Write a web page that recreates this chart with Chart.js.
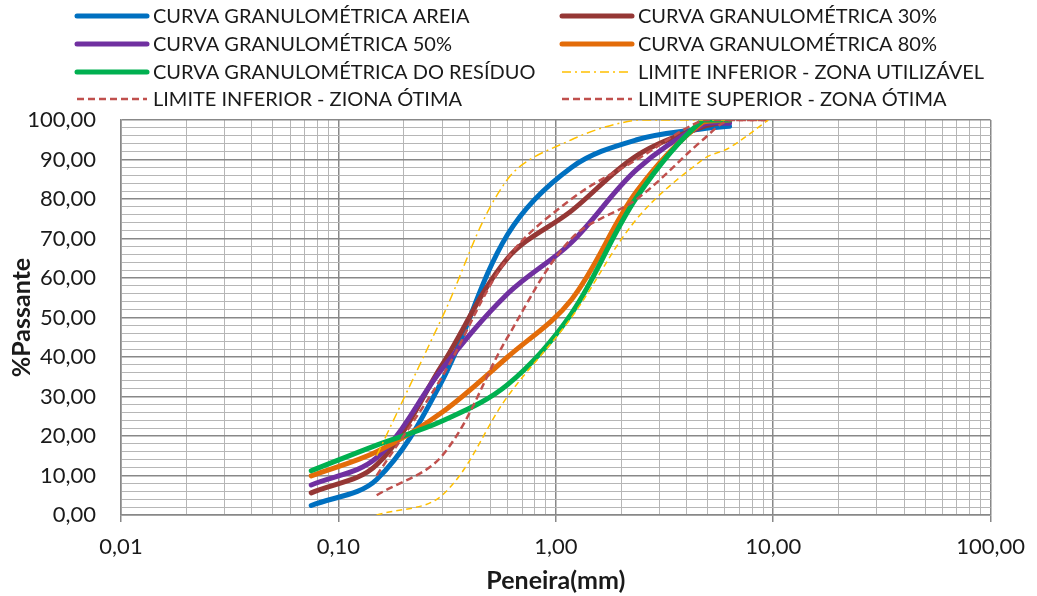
<!DOCTYPE html>
<html>
<head>
<meta charset="utf-8">
<script src="https://cdn.jsdelivr.net/npm/chart.js@4.4.1/dist/chart.umd.min.js"></script>
<style>
  html, body { margin: 0; padding: 0; background: #fff; }
  #wrap { width: 1037px; height: 596px; }
</style>
</head>
<body>
<div id="wrap"><canvas id="granChart" width="1037" height="596"></canvas></div>
<script>
// ── Data ──────────────────────────────────────────────────────────────────

const sieveCurve = [0.075, 0.15, 0.3, 0.6, 1.18, 2.36, 4.75, 6.3];
const sieveLimit = [0.15, 0.3, 0.6, 1.18, 2.36, 4.75, 6.3, 9.5];

const areia      = [2.4, 9.0, 34, 71, 88, 95, 97.8, 98.4];
const mix30      = [5.6, 12.7, 38, 65, 77, 91, 98.3, 99.6];
const mix50      = [7.6, 14.5, 37, 56, 69, 87.5, 98.8, 99.2];
const mix80      = [9.9, 16, 26, 40, 54.5, 82, 99.5, 100];
const residuo    = [11.2, 17.7, 23.8, 33, 51, 80.5, 100, 100];

const limInfUtil  = [15, 50, 85, 95, 100, 100, 100, 100];
const limInfOtima = [10, 35, 65, 80, 90, 100, 100, 100];
const limSupOtima = [5, 15, 45, 70, 80, 95, 100, 100];
const limSupUtil  = [0, 5, 30, 50, 75, 90, 93, 100];

const FONT = 'Lato';
const TXT  = '#1a1a1a';
const GRID_MAJOR = '#888888';
const GRID_MINOR = '#b6b6b6';

const pts = (xs, ys) => xs.map((x, i) => ({ x, y: ys[i] }));
const comma = v => v.toFixed(2).replace('.', ',');

function curve(label, xs, ys, color) {
  return { label, data: pts(xs, ys), borderColor: color, backgroundColor: color,
           borderWidth: 5, borderCapStyle: 'round', borderJoinStyle: 'round',
           tension: 0.35, pointRadius: 0, fill: false };
}
function limit(label, ys, color, dash, width) {
  return { label, data: pts(sieveLimit, ys), borderColor: color, backgroundColor: color,
           borderWidth: width, borderDash: dash,
           tension: 0.35, pointRadius: 0, fill: false };
}

const datasets = [
  curve('CURVA GRANULOMÉTRICA AREIA',   sieveCurve, areia,   '#0070c0'),
  curve('CURVA GRANULOMÉTRICA 30%',     sieveCurve, mix30,   '#953735'),
  curve('CURVA GRANULOMÉTRICA 50%',     sieveCurve, mix50,   '#7030a0'),
  curve('CURVA GRANULOMÉTRICA 80%',     sieveCurve, mix80,   '#e36c09'),
  curve('CURVA GRANULOMÉTRICA DO RESÍDUO', sieveCurve, residuo, '#00b050'),
  limit('LIMITE INFERIOR - ZONA UTILIZÁVEL', limInfUtil,  '#ffc000', [9, 4, 2, 4], 1.5),
  limit('LIMITE INFERIOR - ZIONA ÓTIMA',     limInfOtima, '#c0504d', [7, 4], 2.5),
  limit('LIMITE SUPERIOR - ZONA ÓTIMA',      limSupOtima, '#c0504d', [7, 4], 2.5),
  { ...limit('LIMITE SUPERIOR - ZONA UTILIZÁVEL', limSupUtil, '#ffc000', [6, 4], 1.5), noLegend: true }
];
// later series on top, as in the spreadsheet
datasets.forEach((ds, i) => { ds.order = 20 - i; });

// ── Ticks: every 1..9 per decade on x, every 2 on y ───────────────────────

const xTicks = [];
for (let e = -2; e <= 1; e++)
  for (let m = 1; m <= 9; m++) xTicks.push(Number((m * Math.pow(10, e)).toPrecision(3)));
xTicks.push(100);
const isDecade = v => Math.abs(Math.log10(v) - Math.round(Math.log10(v))) < 1e-9;

const yTicks = [];
for (let v = 0; v <= 100; v += 2) yTicks.push(v);

// ── Two-column legend drawn above the plot ────────────────────────────────

const legendCols = [77, 562];
const legendRows = [16, 44, 72, 99];
const legendPlugin = {
  id: 'twoColLegend',
  afterDraw(chart) {
    const ctx = chart.ctx;
    let k = 0;
    chart.data.datasets.forEach(ds => {
      if (ds.noLegend) return;
      const x = legendCols[k % 2], y = legendRows[Math.floor(k / 2)];
      ctx.save();
      ctx.strokeStyle = ds.borderColor;
      ctx.lineWidth = ds.borderWidth;
      ctx.lineCap = ds.borderDash ? 'butt' : 'round';
      ctx.setLineDash(ds.borderDash || []);
      ctx.beginPath(); ctx.moveTo(x, y); ctx.lineTo(x + 70, y); ctx.stroke();
      ctx.setLineDash([]);
      ctx.fillStyle = TXT;
      ctx.font = `20px ${FONT}`;
      ctx.textBaseline = 'middle';
      ctx.fillText(ds.label, x + 76, y + 1);
      ctx.restore();
      k++;
    });
  }
};

// ── Chart ─────────────────────────────────────────────────────────────────

new Chart(document.getElementById('granChart'), {
  type: 'line',
  data: { datasets },
  plugins: [legendPlugin],
  options: {
    responsive: false, animation: false, devicePixelRatio: 1,
    layout: { padding: { left: 0, right: 45, top: 120, bottom: 0 } },
    plugins: { legend: { display: false }, tooltip: { enabled: false } },
    scales: {
      x: { type: 'logarithmic', min: 0.01, max: 100,
           afterBuildTicks: s => { s.ticks = xTicks.map(v => ({ value: v })); },
           afterFit: s => { s.height = 81; },
           ticks: { autoSkip: false, maxRotation: 0, padding: 12, color: TXT,
                    font: { family: FONT, size: 22 },
                    callback: v => isDecade(v) ? comma(v) : '' },
           grid: { color: c => isDecade(c.tick.value) ? GRID_MAJOR : GRID_MINOR,
                   lineWidth: c => isDecade(c.tick.value) ? 1.5 : 1,
                   tickColor: c => isDecade(c.tick.value) ? GRID_MAJOR : 'rgba(0,0,0,0)',
                   tickLength: 7 },
           border: { color: GRID_MAJOR, width: 1.5 },
           title: { display: true, text: 'Peneira(mm)', color: TXT,
                    font: { family: FONT, size: 25, weight: 'bold' }, padding: { top: 0, bottom: 0 } } },
      y: { type: 'linear', min: 0, max: 100,
           afterBuildTicks: s => { s.ticks = yTicks.map(v => ({ value: v })); },
           afterFit: s => { s.width = 121; },
           ticks: { autoSkip: false, padding: 25, color: TXT,
                    font: { family: FONT, size: 22 },
                    callback: v => v % 10 === 0 ? comma(v) : '' },
           grid: { color: c => c.tick.value % 10 === 0 ? GRID_MAJOR : GRID_MINOR,
                   lineWidth: c => c.tick.value % 10 === 0 ? 1.5 : 1,
                   drawTicks: false },
           border: { color: GRID_MAJOR, width: 1.5 },
           title: { display: true, text: '%Passante', color: TXT,
                    font: { family: FONT, size: 25, weight: 'bold' }, padding: { top: 7, bottom: 0 } } }
    }
  }
});
</script>
</body>
</html>
